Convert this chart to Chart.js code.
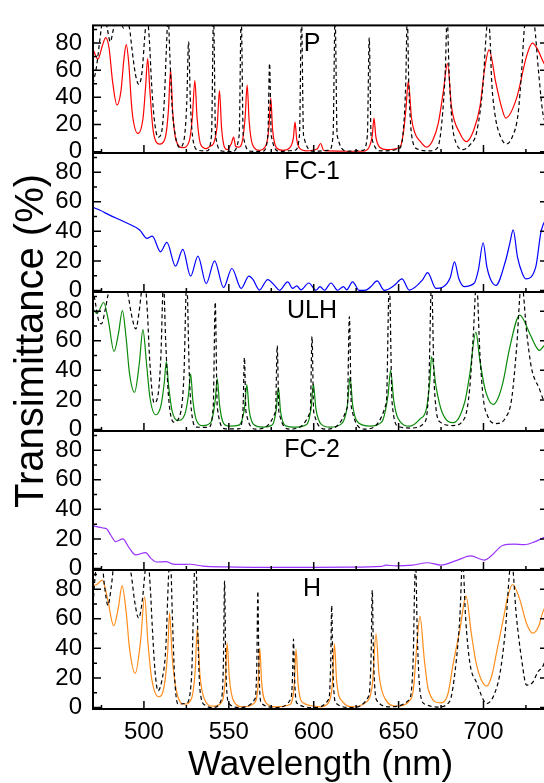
<!DOCTYPE html>
<html>
<head>
<meta charset="utf-8">
<script src="https://cdn.jsdelivr.net/npm/chart.js@4.4.0/dist/chart.umd.min.js"></script>
<style>
  html, body { margin: 0; padding: 0; background: #fff; overflow: hidden; }
  #wrap { position: relative; width: 544px; height: 783px; overflow: hidden; }
  #wrap canvas { position: absolute; left: 0; top: 0; }
</style>
</head>
<body>
<div id="wrap">
  <canvas id="c0" width="560" height="783"></canvas>
  <canvas id="c1" width="560" height="783"></canvas>
  <canvas id="c2" width="560" height="783"></canvas>
  <canvas id="c3" width="560" height="783"></canvas>
  <canvas id="c4" width="560" height="783"></canvas>
</div>
<script>
// ── Data (wavelength nm, transmittance %) ───────────────────
const panelNames = ['P', 'FC-1', 'ULH', 'FC-2', 'H'];

const xMajor = [500, 550, 600, 650, 700];
const xMinor = [475, 525, 575, 625, 675, 725];
const yMajor = [0, 20, 40, 60, 80];
const yMinor = [10, 30, 50, 70, 90];

const redP = [
  [470, 75.4], [472.9, 68.2], [475.5, 78], [477.5, 84], [479.5, 76], [481.5, 52], [484.1, 34.4],
  [486.5, 45], [488.2, 68], [489.6, 78.8], [491, 66], [493, 30], [496.5, 13.4], [499.5, 25],
  [501, 48], [502.2, 68.6], [503.5, 45], [505.5, 15], [509.2, 5.6], [512.5, 10], [514.4, 30],
  [515.7, 60.3], [517, 28], [519, 8], [522.9, 2.9], [526.5, 7], [528.5, 25], [530, 52.4],
  [531.3, 25], [533.5, 5], [536.7, 2.2], [539, 4], [541, 6], [543.2, 20], [544.5, 45],
  [545.7, 18], [547.5, 3], [549, 1.5], [551.5, 6], [552.8, 10.8], [554, 4], [555.7, 3.3],
  [558, 8], [559.6, 25], [560.8, 49], [562, 22], [564, 5], [568, 1], [572, 5], [573.6, 18],
  [574.7, 39.4], [575.8, 16], [578, 3], [581.8, 1], [586, 3], [588, 10], [589, 21.8], [590, 9],
  [592, 2], [595.5, 0.6], [602, 2], [604.1, 6], [605.8, 1], [608.6, 0.5], [620, 0.3],
  [629.2, 0.3], [632.5, 3], [634.5, 12], [635.5, 24.7], [636.6, 11], [639, 3], [643, 1.5],
  [650.8, 3.3], [652.8, 13.6], [654.3, 31], [655.7, 51.8], [657.6, 24.8], [659.6, 13.6],
  [662.5, 7.9], [666.5, 3.3], [670, 8], [673.4, 21], [676.3, 43.9], [678.8, 64.8], [681.2, 32.6],
  [686.1, 13.6], [690, 7.4], [694, 15], [697.9, 33], [700.8, 62], [703.3, 75], [707.3, 50.6],
  [710.6, 33], [713.1, 24.7], [719.5, 39.4], [725.3, 70], [728.8, 80], [732, 75], [735.1, 66.4],
  [738, 60]
];

const dashP = [
  [470, 50], [472, 62], [474, 82], [475.5, 96], [477, 100], [478.5, 90], [480.2, 81], [482, 90],
  [484.5, 100], [486.5, 96], [488, 91], [489.8, 95], [491.5, 91], [493, 75], [495, 57],
  [497, 49.5], [499, 60], [500.5, 85], [501.8, 100], [503.2, 82], [504.5, 50], [506, 25],
  [508.3, 10.5], [510.5, 15], [512, 38], [513.2, 75], [514.2, 100], [515.3, 70], [516.5, 35],
  [518.5, 12], [521, 3], [523.5, 8], [525.2, 35], [526.3, 81], [527.4, 35], [529, 8], [532, 1],
  [537, 0.5], [539.8, 12], [541, 100], [542.2, 12], [546, 0.5], [552, 0], [556.1, 12],
  [557.3, 100], [558.5, 12], [563, 0.3], [570, 0.2], [573, 12], [574, 65], [575, 12],
  [580, 0.2], [589, 1], [591.6, 12], [592.8, 100], [594, 12], [600, 0.3], [609, 1],
  [611.4, 12], [612.6, 100], [613.8, 12], [620, 0.3], [629, 1], [631.6, 12], [632.7, 84],
  [633.8, 12], [640, 0.5], [650, 2], [652.5, 12], [654.2, 50], [655.1, 100], [656, 50],
  [657.7, 12], [661, 2], [668, 0.5], [673, 3], [675.5, 22], [677.5, 60], [678.6, 100],
  [679.7, 60], [681.5, 22], [684, 6], [688, 1.5], [692, 5], [696, 14.6], [699.8, 50.6],
  [701.5, 85], [702.8, 100], [704, 80], [704.7, 55], [706.7, 28], [709.6, 12.4], [713.5, 5.6],
  [717, 11], [720.4, 28], [722.5, 60], [724.3, 93], [727.3, 100], [730, 93], [732.5, 58],
  [735, 28], [738, 18]
];

const blueFC1 = [
  [470, 56.3], [473.9, 54.4], [479.8, 51], [489.6, 45.8], [497.5, 40.9], [501.8, 35.2],
  [504.9, 36.8], [509.8, 26.2], [513.5, 32.5], [518.6, 16.5], [522.9, 27.8], [527.5, 9.7],
  [531.8, 23.3], [536.7, 4.7], [541.6, 20.1], [546.9, 2], [551.8, 14.9], [557.3, 1.4],
  [561.8, 9.7], [564.2, 7.5], [568, 0.3], [572.9, 7.4], [576.9, 3.5], [579.8, 0.2],
  [584.7, 5.8], [587.6, 1.4], [590, 3.2], [592.5, 0.5], [597.1, 5.1], [601.4, 0.2],
  [603.7, 2.7], [606.3, 0.2], [610.2, 5.1], [614.1, 0.2], [617.5, 2.7], [619.4, 0.5],
  [622.9, 5.8], [626.9, 0.1], [630.8, 0.3], [633.7, 2.7], [637.3, 6.5], [641.6, 0.1],
  [647.5, 3.5], [652, 7.9], [656.3, 0.3], [664.1, 7.2], [667.1, 12.1], [672, 1.4],
  [675.9, 2.2], [680.5, 9], [682.9, 19.4], [685.5, 8], [688.6, 2.7], [694.5, 4.9], [697, 14],
  [699.8, 32.3], [702, 16], [704, 8], [707.3, 3.5], [713.1, 20.5], [715.5, 31.9], [717.5, 41],
  [720, 22.8], [722.9, 11.5], [724.9, 7.9], [730.8, 16], [733.7, 38.6], [735.1, 44.5], [738, 50]
];

const greenULH = [
  [470.4, 80.9], [472.4, 78.6], [476.3, 85.9], [479, 74], [482.4, 52.8], [485, 65], [487.3, 80.4],
  [489.5, 62], [491.5, 38], [494.5, 25.2], [497.3, 45], [499.4, 67.5], [501.5, 45], [503.5, 22],
  [506.9, 10], [510, 16], [512, 32], [513.2, 45.9], [514.5, 30], [516.5, 13], [520, 6.1],
  [524, 10], [526.3, 24], [527.5, 37.7], [528.8, 20], [531, 6], [534.7, 2.7], [539.5, 5],
  [542, 20], [543.2, 34.4], [544.5, 17], [547, 4], [550.4, 2.3], [556, 3], [559.3, 15],
  [560.6, 30.3], [562, 13], [565, 3], [570, 1.6], [575.5, 3], [578, 14], [579.2, 28.5],
  [580.5, 12], [583.5, 2.5], [589.6, 1.6], [596, 3.5], [598.5, 15], [599.8, 30.8], [601.3, 14],
  [604.5, 3.5], [609.6, 1.6], [616.5, 4], [619.8, 16], [621.4, 35.4], [623, 16], [627, 4],
  [633.1, 2.3], [640, 5], [643.8, 23.4], [645.3, 40], [647.1, 20.1], [649.7, 7.4], [656.7, 2.3],
  [662.5, 7], [666.4, 14.2], [668.4, 32.6], [669.4, 49.2], [672.2, 28], [675.5, 12], [682.2, 4.6],
  [689, 18.8], [691.9, 37.2], [695.5, 65.9], [697.9, 46.4], [700.8, 28], [703.7, 18.8],
  [705.7, 17], [708.5, 21], [711.6, 32.6], [715.5, 55.6], [721.4, 77.4], [727.3, 64.8],
  [731.2, 55.6], [733, 53.5], [735.1, 56], [738, 59]
];

const dashULH = [
  [470, 95], [471.5, 85], [473.5, 73], [475, 71.5], [477, 80], [479, 92], [480.5, 100], [488, 100],
  [490.5, 92], [492.6, 78], [495.2, 68], [497.2, 80], [498.8, 95], [500.5, 100], [502, 80],
  [503.5, 45], [506, 18], [508.5, 25], [510, 50], [511.5, 100], [512.8, 60], [514.5, 22],
  [517.5, 5], [521, 9], [523.5, 35], [525.2, 100], [526.8, 35], [528.5, 8], [531, 1.6],
  [538, 1.5], [540.8, 15], [542, 86], [543.2, 15], [548, 0.5], [556, 0.5], [558.3, 12],
  [559.2, 48.7], [560.1, 12], [566, 0.3], [577.5, 12], [578.5, 56.7], [579.5, 12], [586, 0.3],
  [598, 12], [599, 63], [600, 12], [607, 0.3], [619.8, 15], [621, 76.3], [622.2, 15], [630, 0.3],
  [642.8, 18], [644.5, 100], [646.2, 18], [650, 2], [657, 1], [665.5, 5], [667.8, 30],
  [669.4, 100], [671, 30], [674.5, 5], [682, 2.7], [689, 8], [691.9, 28], [693.9, 62],
  [695.9, 100], [697.9, 51], [699.9, 21], [702.5, 9], [707.3, 4], [713, 8], [716.5, 20],
  [719.5, 55], [722.4, 100], [725.5, 65], [728.2, 42], [733.1, 27], [735, 21], [738, 17]
];

const purpleFC2 = [
  [470, 28.8], [475.9, 27.4], [477.8, 27], [480.5, 22.5], [483.3, 18.2], [487.6, 20], [491, 14.5],
  [495.1, 9.2], [501, 10.8], [504, 7], [507.3, 4.4], [513.1, 4.6], [516.5, 3.2], [520.6, 2.8],
  [527.3, 2.9], [534.7, 1.6], [548.4, 1.1], [570, 0.8], [600, 0.8], [620, 0.9], [640, 1.5],
  [642.5, 2.3], [648.4, 1.8], [658.2, 2.3], [667.1, 3.9], [674.9, 2.3], [684.7, 5.7],
  [692.5, 8.5], [700.4, 5.7], [705, 9], [711.2, 15.6], [718, 16.5], [723.9, 16.1], [730, 18],
  [735.1, 20.7], [738, 22]
];

const orangeH = [
  [470, 82.5], [472, 83], [475.5, 86.1], [478.5, 74], [482.2, 55.3], [485, 68], [487.1, 82.5],
  [489.5, 65], [491.5, 40], [494.9, 23.1], [498, 45], [500.4, 74.8], [502.3, 45], [504.5, 20],
  [508.6, 7.3], [512, 15], [514, 38], [515.1, 63.9], [516.6, 35], [519, 12], [524, 2.3],
  [528, 6], [530.2, 25], [531.4, 53.3], [533, 22], [535.5, 6], [540.6, 0.9], [546, 4], [548, 20],
  [549, 43.5], [550.3, 20], [553, 4], [558.2, 0.5], [565, 3], [567.2, 15], [568.2, 40.1],
  [569.4, 16], [572, 3], [577.9, 0.5], [586, 2], [588.5, 15], [589.6, 39.4], [590.8, 16],
  [594, 3], [603.8, 0.5], [608.5, 3], [611, 16], [612.2, 43.1], [613.5, 18], [617, 4],
  [623.4, 0.5], [630, 3], [634.5, 15], [636.7, 49.9], [638.5, 22], [642, 6], [648.8, 1],
  [656.7, 4.9], [658.7, 12.2], [660.7, 41.3], [662.6, 61.7], [665.1, 33], [667.5, 12.2],
  [674.4, 3.2], [679, 9], [682.2, 30], [686.1, 52.6], [689.7, 75.3], [692.8, 50.3], [695.7, 30],
  [698.7, 18.8], [701.9, 14.5], [705, 22], [707.6, 36.7], [711.6, 59.4], [714.5, 76],
  [717.2, 83.2], [721.4, 73], [725.3, 57], [729, 50.3], [732.5, 55], [735.1, 65], [738, 71]
];

const dashH = [
  [470, 70], [471.2, 88], [472.5, 100], [475, 100], [476.8, 82], [478.8, 69], [480.8, 82],
  [482.8, 100], [490, 100], [492.5, 90], [494.5, 72], [496.9, 60.5], [499, 72], [501, 95],
  [502.3, 100], [503.8, 80], [504.9, 55], [506.5, 25], [508.3, 11.3], [510.5, 18], [512.8, 39],
  [514.7, 93], [515.6, 100], [516.8, 60], [518, 22], [520, 2.3], [525, 3], [528, 20],
  [529.8, 93], [530.6, 100], [531.5, 60], [533, 12], [536, 1.5], [540.6, 0], [545.5, 5],
  [546.8, 30], [547.5, 85.5], [548.2, 30], [550, 3], [556, 0], [565.5, 6], [566.5, 30],
  [567.1, 78.7], [567.7, 30], [569, 3], [578, 0], [586.6, 6], [587.5, 20], [588.1, 46.2],
  [588.7, 20], [590, 3], [600, 0], [609, 6], [610, 30], [610.6, 68.9], [611.2, 30], [613, 3],
  [622, 0], [632.5, 8], [633.8, 35], [634.5, 79.3], [635.2, 35], [637, 5], [645, 0.5],
  [656, 5], [658.6, 33], [659.4, 80], [660, 100], [661, 50], [662, 20], [663.6, 5], [666, 2],
  [673, 0.3], [680, 4], [684.1, 33], [686.1, 61.7], [687.7, 100], [689.5, 60], [692, 30],
  [695.9, 17], [701.9, 2.7], [706, 8], [709.7, 23], [712.7, 50], [716.5, 100], [719.4, 61.4],
  [722.4, 33], [725.4, 15.2], [729, 17], [732, 24], [735, 28], [738, 38]
];

const solidSeries = [redP, blueFC1, greenULH, purpleFC2, orangeH];
const solidColors = ['#ff0000', '#0000ff', '#0a8a0a', '#9933ff', '#ff8c1a'];
const dashSeries  = [dashP, null, dashULH, null, dashH];

// ── Layout (pixels) ──────────────────────────────────────────
const CANVAS_W = 560, CANVAS_H = 783;
const PLOT_LEFT = 93, PLOT_RIGHT = 548;
const PANEL_TOP = 14, PANEL_H = 139;
const Y_AXIS_W = 60, X_AXIS_H = 74;
const FONT = '"Liberation Sans", Arial, Helvetica, sans-serif';

Chart.defaults.font.family = FONT;
Chart.defaults.color = '#000';

// ── Frame, inward ticks and panel label ──────────────────────
const frameTicks = {
  id: 'frameTicks',
  afterDatasetsDraw(chart, args, opts) {
    const { ctx, chartArea: a, scales: { x, y } } = chart;
    ctx.save();
    ctx.strokeStyle = '#000';
    ctx.lineWidth = 2;
    ctx.strokeRect(a.left, a.top, a.right - a.left, a.bottom - a.top);

    ctx.lineWidth = 1.5;
    ctx.beginPath();
    const seg = (x1, y1, x2, y2) => { ctx.moveTo(x1, y1); ctx.lineTo(x2, y2); };
    xMajor.forEach(v => { const p = x.getPixelForValue(v); seg(p, a.bottom, p, a.bottom - 8); });
    xMinor.forEach(v => { const p = x.getPixelForValue(v); seg(p, a.bottom, p, a.bottom - 4); });
    yMajor.forEach(v => {
      const p = y.getPixelForValue(v);
      seg(a.left, p, a.left + 8, p);
      seg(a.right, p, a.right - 8, p);
    });
    yMinor.forEach(v => {
      const p = y.getPixelForValue(v);
      seg(a.left, p, a.left + 4, p);
      seg(a.right, p, a.right - 4, p);
    });
    ctx.stroke();

    ctx.fillStyle = '#000';
    ctx.textAlign = 'center';
    ctx.textBaseline = 'middle';
    ctx.font = `25px ${FONT}`;
    ctx.fillText(opts.label, x.getPixelForValue(599), a.top + 19);

    if (opts.yTitle) {
      ctx.translate(32, 341);
      ctx.rotate(-Math.PI / 2);
      ctx.font = `40px ${FONT}`;
      ctx.fillText(opts.yTitle, 0, 0);
    }
    ctx.restore();
  }
};

// ── One chart per panel ──────────────────────────────────────
panelNames.forEach((name, i) => {
  const top = PANEL_TOP + PANEL_H * i;
  const bottom = top + PANEL_H;
  const isLast = i === panelNames.length - 1;

  const datasets = [];
  if (dashSeries[i]) {
    datasets.push({
      data: dashSeries[i],
      borderColor: '#000',
      borderWidth: 1.2,
      borderDash: [4, 3]
    });
  }
  datasets.push({
    data: solidSeries[i],
    borderColor: solidColors[i],
    borderWidth: 1.2
  });

  new Chart(document.getElementById('c' + i), {
    type: 'line',
    data: { datasets },
    options: {
      responsive: false,
      animation: false,
      events: [],
      layout: {
        padding: {
          left: PLOT_LEFT - Y_AXIS_W,
          right: CANVAS_W - PLOT_RIGHT,
          top: top,
          bottom: CANVAS_H - bottom - (isLast ? X_AXIS_H : 0)
        }
      },
      elements: {
        point: { radius: 0 },
        line: { cubicInterpolationMode: 'monotone', fill: false }
      },
      scales: {
        x: {
          type: 'linear',
          min: 470,
          max: 738,
          grid: { display: false, drawTicks: false },
          border: { display: false },
          afterBuildTicks: s => { s.ticks = xMajor.map(v => ({ value: v })); },
          afterFit: s => { s.height = isLast ? X_AXIS_H : 0; },
          ticks: {
            display: isLast,
            padding: 9,
            maxRotation: 0,
            font: { size: 24 }
          },
          title: {
            display: isLast,
            text: 'Wavelength (nm)',
            font: { size: 35, lineHeight: 1 },
            padding: { top: 0, bottom: 0 }
          }
        },
        y: {
          min: -1,
          max: 93,
          grid: { display: false, drawTicks: false },
          border: { display: false },
          afterBuildTicks: s => { s.ticks = yMajor.map(v => ({ value: v })); },
          afterFit: s => { s.width = Y_AXIS_W; },
          ticks: { padding: 11, font: { size: 24 } }
        }
      },
      plugins: {
        legend: { display: false },
        tooltip: { enabled: false },
        frameTicks: {
          label: name,
          yTitle: i === 0 ? 'Transimittance (%)' : null
        }
      }
    },
    plugins: [frameTicks]
  });
});
</script>
</body>
</html>
